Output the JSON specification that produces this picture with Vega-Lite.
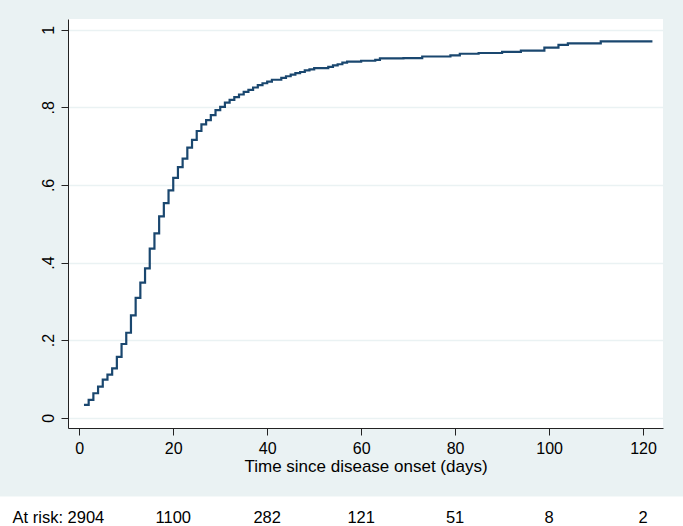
{
  "$schema": "https://vega.github.io/schema/vega-lite/v6.json",
  "autosize": {"type": "none"},
  "width": 595,
  "height": 409,
  "padding": {"left": 68, "top": 19, "right": 20, "bottom": 98},
  "background": "#eaf2f3",
  "config": {
    "view": {"fill": "white", "stroke": null},
    "font": "Liberation Sans",
    "axis": {
      "domainColor": "#222222",
      "tickColor": "#222222",
      "labelColor": "black",
      "titleColor": "black",
      "labelFont": "Liberation Sans",
      "titleFont": "Liberation Sans",
      "labelFontSize": 16,
      "titleFontSize": 17,
      "titleFontWeight": "normal",
      "tickSize": 7
    }
  },
  "datasets": {
    "km": [
      {"time": 1, "fail": 0.033}, {"time": 2, "fail": 0.046}, {"time": 3, "fail": 0.063},
      {"time": 4, "fail": 0.080}, {"time": 5, "fail": 0.098}, {"time": 6, "fail": 0.111},
      {"time": 7, "fail": 0.127}, {"time": 8, "fail": 0.157}, {"time": 9, "fail": 0.190},
      {"time": 10, "fail": 0.219}, {"time": 11, "fail": 0.264}, {"time": 12, "fail": 0.309},
      {"time": 13, "fail": 0.348}, {"time": 14, "fail": 0.385}, {"time": 15, "fail": 0.436},
      {"time": 16, "fail": 0.475}, {"time": 17, "fail": 0.519}, {"time": 18, "fail": 0.553},
      {"time": 19, "fail": 0.586}, {"time": 20, "fail": 0.618}, {"time": 21, "fail": 0.646},
      {"time": 22, "fail": 0.668}, {"time": 23, "fail": 0.696}, {"time": 24, "fail": 0.716},
      {"time": 25, "fail": 0.739}, {"time": 26, "fail": 0.756}, {"time": 27, "fail": 0.767},
      {"time": 28, "fail": 0.780}, {"time": 29, "fail": 0.793}, {"time": 30, "fail": 0.801},
      {"time": 31, "fail": 0.812}, {"time": 32, "fail": 0.819}, {"time": 33, "fail": 0.826},
      {"time": 34, "fail": 0.833}, {"time": 35, "fail": 0.840}, {"time": 36, "fail": 0.845},
      {"time": 37, "fail": 0.851}, {"time": 38, "fail": 0.857}, {"time": 39, "fail": 0.862},
      {"time": 40, "fail": 0.866}, {"time": 41, "fail": 0.871}, {"time": 43, "fail": 0.876},
      {"time": 44, "fail": 0.880}, {"time": 45, "fail": 0.884}, {"time": 46, "fail": 0.888},
      {"time": 47, "fail": 0.891}, {"time": 48, "fail": 0.895}, {"time": 49, "fail": 0.898},
      {"time": 50, "fail": 0.901}, {"time": 53, "fail": 0.904}, {"time": 54, "fail": 0.908},
      {"time": 55, "fail": 0.911}, {"time": 56, "fail": 0.915}, {"time": 57, "fail": 0.918},
      {"time": 60, "fail": 0.920}, {"time": 63, "fail": 0.922}, {"time": 64, "fail": 0.926},
      {"time": 69, "fail": 0.927}, {"time": 73, "fail": 0.931}, {"time": 79, "fail": 0.934},
      {"time": 81, "fail": 0.938}, {"time": 85, "fail": 0.940}, {"time": 90, "fail": 0.943},
      {"time": 94, "fail": 0.946}, {"time": 99, "fail": 0.954}, {"time": 102, "fail": 0.961},
      {"time": 104, "fail": 0.965}, {"time": 111, "fail": 0.970}, {"time": 122, "fail": 0.970}
    ],
    "risk": [
      {"time": 0, "label": "At risk: 2904"},
      {"time": 20, "label": "1100"},
      {"time": 40, "label": "282"},
      {"time": 60, "label": "121"},
      {"time": 80, "label": "51"},
      {"time": 100, "label": "8"},
      {"time": 120, "label": "2"}
    ]
  },
  "layer": [
    {
      "data": {"name": "km"},
      "mark": {"type": "line", "interpolate": "step-after", "color": "#1a476f", "strokeWidth": 2.2},
      "encoding": {
        "x": {
          "field": "time", "type": "quantitative",
          "scale": {"domain": [-2.4, 124.25], "nice": false, "zero": false},
          "axis": {"values": [0, 20, 40, 60, 80, 100, 120], "grid": false, "title": "Time since disease onset (days)", "labelPadding": 5, "titlePadding": 2}
        },
        "y": {
          "field": "fail", "type": "quantitative",
          "scale": {"domain": [-0.0265, 1.0276], "nice": false, "zero": false},
          "axis": {
            "values": [0, 0.2, 0.4, 0.6, 0.8, 1],
            "format": "~g",
            "labelExpr": "replace(datum.label, '0.', '.')",
            "labelAngle": 270,
            "labelPadding": 5,
            "grid": true,
            "gridColor": "#eaf2f3",
            "gridWidth": 1.5,
            "title": null
          }
        }
      }
    },
    {
      "data": {"values": [{}]},
      "mark": {"type": "rect", "color": "white", "clip": false},
      "encoding": {
        "x": {"datum": -20, "type": "quantitative"},
        "x2": {"datum": 130},
        "y": {"datum": -0.203, "type": "quantitative"},
        "y2": {"datum": -0.35}
      }
    },
    {
      "data": {"name": "risk"},
      "transform": [{"filter": "datum.time > 0"}],
      "mark": {"type": "text", "align": "center", "baseline": "middle", "fontSize": 16.5, "color": "black", "font": "Liberation Sans"},
      "encoding": {
        "x": {"field": "time", "type": "quantitative"},
        "y": {"datum": -0.259, "type": "quantitative"},
        "text": {"field": "label"}
      }
    },
    {
      "data": {"name": "risk"},
      "transform": [{"filter": "datum.time == 0"}],
      "mark": {"type": "text", "align": "right", "baseline": "middle", "fontSize": 16.5, "dx": 25, "color": "black", "font": "Liberation Sans"},
      "encoding": {
        "x": {"field": "time", "type": "quantitative"},
        "y": {"datum": -0.259, "type": "quantitative"},
        "text": {"field": "label"}
      }
    }
  ]
}
